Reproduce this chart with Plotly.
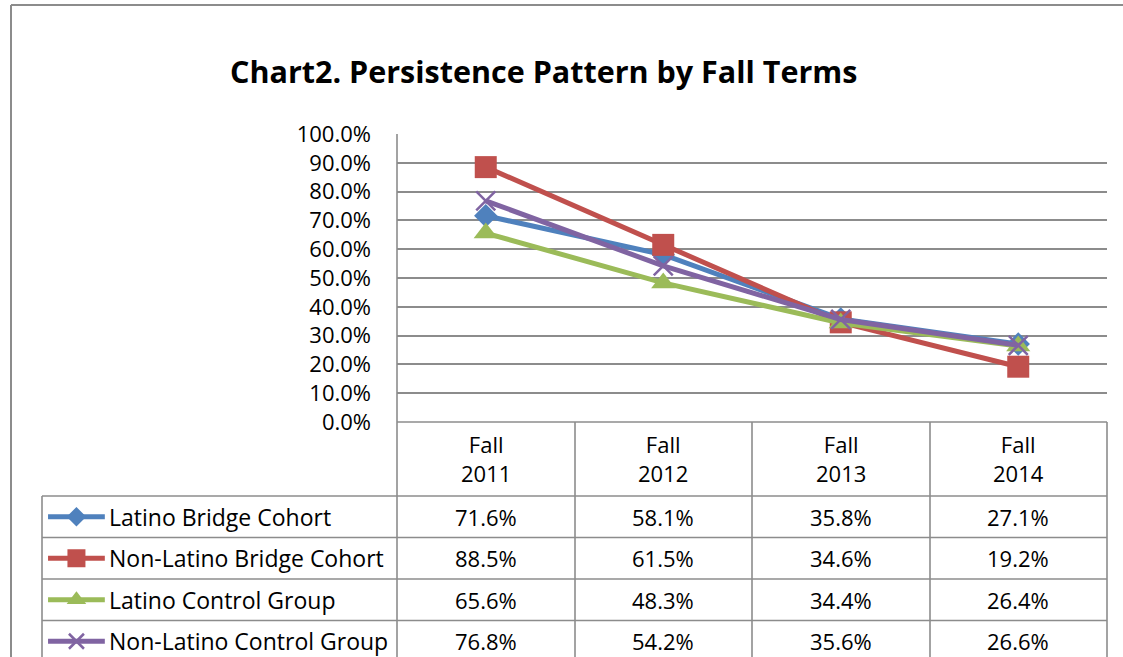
import plotly.graph_objects as go

categories = ["Fall<br>2011", "Fall<br>2012", "Fall<br>2013", "Fall<br>2014"]
series_names = ["Latino Bridge Cohort", "Non-Latino Bridge Cohort",
                "Latino Control Group", "Non-Latino Control Group"]
latino_bridge = [0.716, 0.581, 0.358, 0.271]
nonlatino_bridge = [0.885, 0.615, 0.346, 0.192]
latino_control = [0.656, 0.483, 0.344, 0.264]
nonlatino_control = [0.768, 0.542, 0.356, 0.266]
y_ticks = [0.0, 0.1, 0.2, 0.3, 0.4, 0.5, 0.6, 0.7, 0.8, 0.9, 1.0]

series_values = [latino_bridge, nonlatino_bridge, latino_control, nonlatino_control]
colors = ["#4F81BD", "#C0504D", "#9BBB59", "#8064A2"]
symbols = ["diamond", "square", "triangle-up", "x-thin"]
msizes = [18, 22, 21, 19]
legend_msizes = [15, 18, 17, 15]

W, H = 1123, 657
FONT = "Open Sans"
FS = 23
GRID = "#8C8C8C"


def px(x):
    return x / W


def py(y):
    return 1 - y / H


idx = list(range(len(categories)))
fig = go.Figure()

PL, PR, PT, PB = 397, 1107, 134, 422
TL, HB, RH = 42, 496, 41.5
COLS = [397, 575, 752, 930, 1107]

for name, vals, c, s, ms in zip(series_names, series_values, colors, symbols, msizes):
    marker = dict(symbol=s, size=ms, color=c, opacity=1, line=dict(width=0, color=c))
    if s == "x-thin":
        marker["line"] = dict(width=2.5, color=c)
    fig.add_trace(go.Scatter(x=idx, y=vals, mode="lines+markers", name=name,
                             line=dict(color=c, width=5), marker=marker,
                             showlegend=False, hoverinfo="skip"))

row_top = -0.5
row_bottom = (H - (HB + RH * 0.5)) / RH
for i, (name, c, s, ms) in enumerate(zip(series_names, colors, symbols, legend_msizes)):
    marker = dict(symbol=s, color=c, size=[0, ms, 0], opacity=1, line=dict(width=0, color=c))
    if s == "x-thin":
        marker["line"] = dict(width=2.5, color=c)
    fig.add_trace(go.Scatter(x=[0.017, 0.097, 0.177], y=[i, i, i], xaxis="x2", yaxis="y2",
                             mode="lines+markers", line=dict(color=c, width=5),
                             marker=marker, showlegend=False, hoverinfo="skip"))

annotations = []
annotations.append(dict(text="<b>Chart2. Persistence Pattern by Fall Terms</b>", x=px(543), y=py(71),
                        xref="paper", yref="paper", showarrow=False, xanchor="center", yanchor="middle",
                        font=dict(family=FONT, size=30.5, color="black")))
for i, cat in enumerate(categories):
    annotations.append(dict(text=cat, x=i, y=py(458), xref="x", yref="paper", showarrow=False,
                            font=dict(family=FONT, size=FS - 1, color="black"), align="center",
                            yanchor="middle"))
for r, (name, vals) in enumerate(zip(series_names, series_values)):
    annotations.append(dict(text=name, x=0.183, y=r, xref="x2", yref="y2", showarrow=False,
                            xanchor="left", yanchor="middle", font=dict(family=FONT, size=FS, color="black")))
    for i, v in enumerate(vals):
        annotations.append(dict(text=f"{v*100:.1f}%", x=i, y=r, xref="x", yref="y3",
                                showarrow=False, yanchor="middle",
                                font=dict(family=FONT, size=FS - 1, color="black")))

shapes = []
ln = dict(color=GRID, width=1.6)
shapes.append(dict(type="line", xref="paper", yref="paper", x0=px(11), x1=1, y0=py(5), y1=py(5), line=dict(color=GRID, width=2)))
shapes.append(dict(type="line", xref="paper", yref="paper", x0=px(11), x1=px(11), y0=py(5), y1=0, line=dict(color=GRID, width=2)))
for cx in COLS:
    shapes.append(dict(type="line", xref="paper", yref="paper", x0=px(cx), x1=px(cx), y0=py(PB), y1=0, line=ln))
shapes.append(dict(type="line", xref="paper", yref="paper", x0=px(PL), x1=px(PL), y0=py(PT), y1=py(PB), line=ln))
shapes.append(dict(type="line", xref="paper", yref="paper", x0=px(TL), x1=px(TL), y0=py(HB), y1=0, line=ln))
shapes.append(dict(type="line", xref="paper", yref="paper", x0=px(PL), x1=px(PR), y0=py(PB), y1=py(PB), line=ln))
for r in range(4):
    yy = HB + RH * r
    shapes.append(dict(type="line", xref="paper", yref="paper", x0=px(TL), x1=px(PR), y0=py(yy), y1=py(yy), line=ln))

fig.update_layout(
    width=W, height=H, margin=dict(l=0, r=0, t=0, b=0, autoexpand=False),
    paper_bgcolor="white", plot_bgcolor="white",
    xaxis=dict(domain=[px(PL), px(PR)], range=[-0.5, 3.5], showticklabels=False,
               showgrid=False, zeroline=False, fixedrange=True, automargin=False),
    yaxis=dict(domain=[py(PB), py(PT)], range=[0, 1], tickvals=y_ticks, tickformat=".1%",
               showgrid=True, gridcolor=GRID, gridwidth=1.6, zeroline=False,
               ticks="", ticklabelstandoff=25, automargin=False,
               tickfont=dict(family=FONT, size=22, color="black"), fixedrange=True),
    xaxis2=dict(domain=[px(TL), px(PL)], range=[0, 1], visible=False, anchor="y2",
                fixedrange=True, automargin=False),
    yaxis2=dict(domain=[0, py(HB)], range=[row_bottom, row_top], visible=False, anchor="x2",
                fixedrange=True, automargin=False),
    yaxis3=dict(domain=[0, py(HB)], range=[row_bottom, row_top], visible=False, anchor="x",
                overlaying="y2", fixedrange=True, automargin=False),
    annotations=annotations, shapes=shapes,
)

fig.write_html("out.html", config={"displayModeBar": False},
               post_script="document.body.style.margin='0';document.body.style.overflow='hidden';")
